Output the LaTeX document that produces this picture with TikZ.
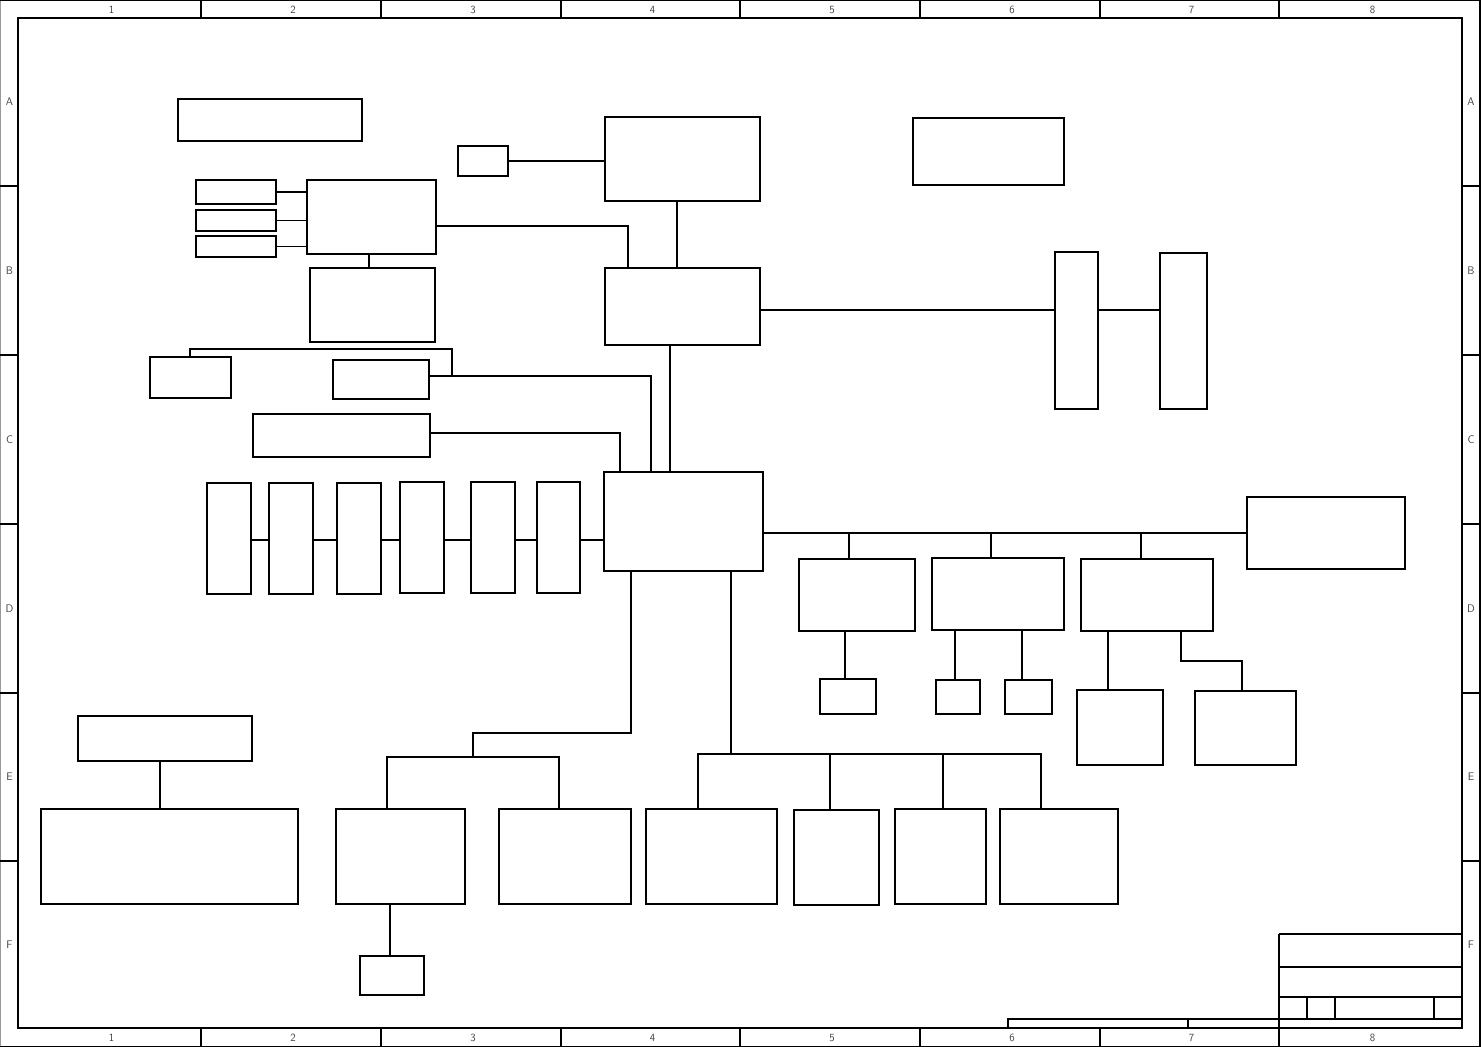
\documentclass[tikz,border=0pt]{standalone}
\usetikzlibrary{calc}
\tikzset{
  blk/.style={draw=black, line width=1.2pt, rectangle, inner sep=0pt, outer sep=0pt, anchor=north west},
  wire/.style={draw=black, line width=1.2pt},
  frm/.style={draw=black, line width=2.4pt},
  thin/.style={draw=black, line width=1.2pt},
  lbl/.style={font=\sffamily\fontsize{11}{11}\selectfont, text=black!75, inner sep=0pt}
}
\newcommand{\mybox}[5]{\node[blk, minimum width=#4-#2, minimum height=#5-#3] (#1) at (#2,#3) {};}
\begin{document}
\begin{tikzpicture}[x=1pt,y=-1pt]
\useasboundingbox (0,0) rectangle (1481,1047);
% ---------- frame ----------
\draw[draw=black!40, line width=1.2pt] (0.6,0) -- (0.6,1047);
\draw[thin] (0,0.6) -- (1481,0.6);
\draw[thin] (0,1046.4) -- (1481,1046.4);
\draw[frm] (1480,0) -- (1480,1047);
\draw[frm] (18,18) rectangle (1462,1028);
% column dividers
\foreach \x/\w in {201/1.2pt,381/2.4pt,561/1.2pt,740/1.2pt,920/2.4pt,1100/2.4pt,1279/1.2pt}{
  \draw[line width=\w] (\x,0) -- (\x,18);
  \draw[line width=\w] (\x,1028) -- (\x,1047);
}
% row dividers
\foreach \y in {186,355,524,693,861}{
  \draw[line width=2.4pt] (0,\y) -- (18,\y);
  \draw[line width=2.4pt] (1462,\y) -- (1480,\y);
}
% column labels
\foreach \a/\b/\t in {18/201/1,201/381/2,381/561/3,561/740/4,740/920/5,920/1100/6,1100/1279/7,1279/1462/8}{
  \node[lbl] (ct\t) at ({(\a+\b)/2+2},10) {\t};
  \node[lbl] (cb\t) at ({(\a+\b)/2+2},1038) {\t};
}
% row labels
\foreach \a/\b/\t in {18/186/A,186/355/B,355/524/C,524/693/D,693/861/E,861/1028/F}{
  \node[lbl] (rl\t) at (9.5,{(\a+\b)/2}) {\t};
  \node[lbl] (rr\t) at (1471,{(\a+\b)/2}) {\t};
}
% ---------- title block ----------
\draw[thin] (1279,934) -- (1462,934);
\draw[thin] (1279,967) -- (1462,967);
\draw[thin] (1279,934) -- (1279,1028);
\draw[line width=2.2pt] (1279,997) -- (1462,997);
\draw[line width=2.2pt] (1007,1019) -- (1462,1019);
\draw[thin] (1307,997) -- (1307,1019);
\draw[line width=2.2pt] (1335,997) -- (1335,1019);
\draw[thin] (1434,997) -- (1434,1019);
\draw[line width=2.2pt] (1008,1018) -- (1008,1028);
\draw[thin] (1188,1019) -- (1188,1028);
% ---------- boxes ----------
\mybox{b1}{178}{99}{362}{141}
\mybox{b2}{458}{146}{508}{176}
\mybox{b3}{605}{117}{760}{201}
\mybox{b4}{913}{118}{1064}{185}
\mybox{b5}{196}{180}{276}{204}
\mybox{b6}{196}{210}{276}{231}
\mybox{b7}{196}{236}{276}{257}
\mybox{b8}{307}{180}{436}{254}
\mybox{b9}{310}{268}{435}{342}
\mybox{b10}{605}{268}{760}{345}
\mybox{b11}{1055}{252}{1098}{409}
\mybox{b12}{1160}{253}{1207}{409}
\mybox{b13}{150}{357}{231}{398}
\mybox{b14}{333}{360}{429}{399}
\mybox{b15}{253}{414}{430}{457}
\mybox{b16}{604}{472}{763}{571}
\mybox{b17}{207}{483}{251}{594}
\mybox{b18}{269}{483}{313}{594}
\mybox{b19}{337}{483}{381}{594}
\mybox{b20}{400}{482}{444}{593}
\mybox{b21}{471}{482}{515}{593}
\mybox{b22}{537}{482}{580}{593}
\mybox{b23}{1247}{497}{1405}{569}
\mybox{b24}{799}{559}{915}{631}
\mybox{b25}{932}{558}{1064}{630}
\mybox{b26}{1081}{559}{1213}{631}
\mybox{b27}{820}{679}{876}{714}
\mybox{b28}{936}{680}{980}{714}
\mybox{b29}{1005}{680}{1052}{714}
\mybox{b30}{1077}{690}{1163}{765}
\mybox{b31}{1195}{691}{1296}{765}
\mybox{b32}{78}{716}{252}{761}
\mybox{b33}{41}{809}{298}{904}
\mybox{b34}{336}{809}{465}{904}
\mybox{b35}{499}{809}{631}{904}
\mybox{b36}{646}{809}{777}{904}
\mybox{b37}{794}{810}{879}{905}
\mybox{b38}{895}{809}{986}{904}
\mybox{b39}{1000}{809}{1118}{904}
\mybox{b40}{360}{956}{424}{995}
% ---------- connectors ----------
\draw[wire] (b2.east) -- (b2.east -| b3.west);
\draw[wire] (b5.east) -- (b5.east -| b8.west);
\draw[wire] (b6.east) -- (b6.east -| b8.west);
\draw[wire] (b7.east) -- (b7.east -| b8.west);
\draw[wire] (b8.east |- 0,226) -| (b10.north -| 628,0);
\draw[wire] (b8.south -| 369,0) -- (b9.north -| 369,0);
\draw[wire] (b3.south -| 677,0) -- (b10.north -| 677,0);
\draw[wire] (b10.east |- 0,310) -- (b11.west |- 0,310);
\draw[wire] (b11.east |- 0,310) -- (b12.west |- 0,310);
\draw[wire] (b10.south -| 670,0) -- (b16.north -| 670,0);
\coordinate (j1) at (190,349);
\coordinate (j2) at (452,349);
\coordinate (j3) at (452,376);
\draw[wire] (b13.north -| j1) -- (j1) -- (j2) -- (j3);
\draw[wire] (b14.east |- j3) -| (b16.north -| 651,0);
\draw[wire] (b15.east |- 0,433) -| (b16.north -| 620,0);
\draw[wire] (b17.east |- 0,540) -- (b18.west |- 0,540);
\draw[wire] (b18.east |- 0,540) -- (b19.west |- 0,540);
\draw[wire] (b19.east |- 0,540) -- (b20.west |- 0,540);
\draw[wire] (b20.east |- 0,540) -- (b21.west |- 0,540);
\draw[wire] (b21.east |- 0,540) -- (b22.west |- 0,540);
\draw[wire] (b22.east |- 0,540) -- (b16.west |- 0,540);
\draw[wire] (b16.east |- 0,533) -- (b23.west |- 0,533);
\draw[wire] (849,533) -- (b24.north -| 849,0);
\draw[wire] (991,533) -- (b25.north -| 991,0);
\draw[wire] (1141,533) -- (b26.north -| 1141,0);
\draw[wire] (b24.south -| 845,0) -- (b27.north -| 845,0);
\draw[wire] (b25.south -| 955,0) -- (b28.north -| 955,0);
\draw[wire] (b25.south -| 1022,0) -- (b29.north -| 1022,0);
\draw[wire] (b26.south -| 1108,0) -- (b30.north -| 1108,0);
\draw[wire] (b26.south -| 1181,0) |- (1242,661) -- (b31.north -| 1242,0);
\coordinate (k1) at (473,757);
\draw[wire] (b16.south -| 631,0) |- (473,733) -- (k1);
\draw[wire] (b34.north -| 387,0) -- (387,757) -- (559,757) -- (b35.north -| 559,0);
\coordinate (m1) at (731,754);
\draw[wire] (b16.south -| m1) -- (m1);
\draw[wire] (b36.north -| 698,0) -- (698,754) -- (1041,754) -- (b39.north -| 1041,0);
\draw[wire] (830,754) -- (b37.north -| 830,0);
\draw[wire] (943,754) -- (b38.north -| 943,0);
\draw[wire] (b32.south -| 160,0) -- (b33.north -| 160,0);
\draw[wire] (b34.south -| 390,0) -- (b40.north -| 390,0);
\end{tikzpicture}
\end{document}
